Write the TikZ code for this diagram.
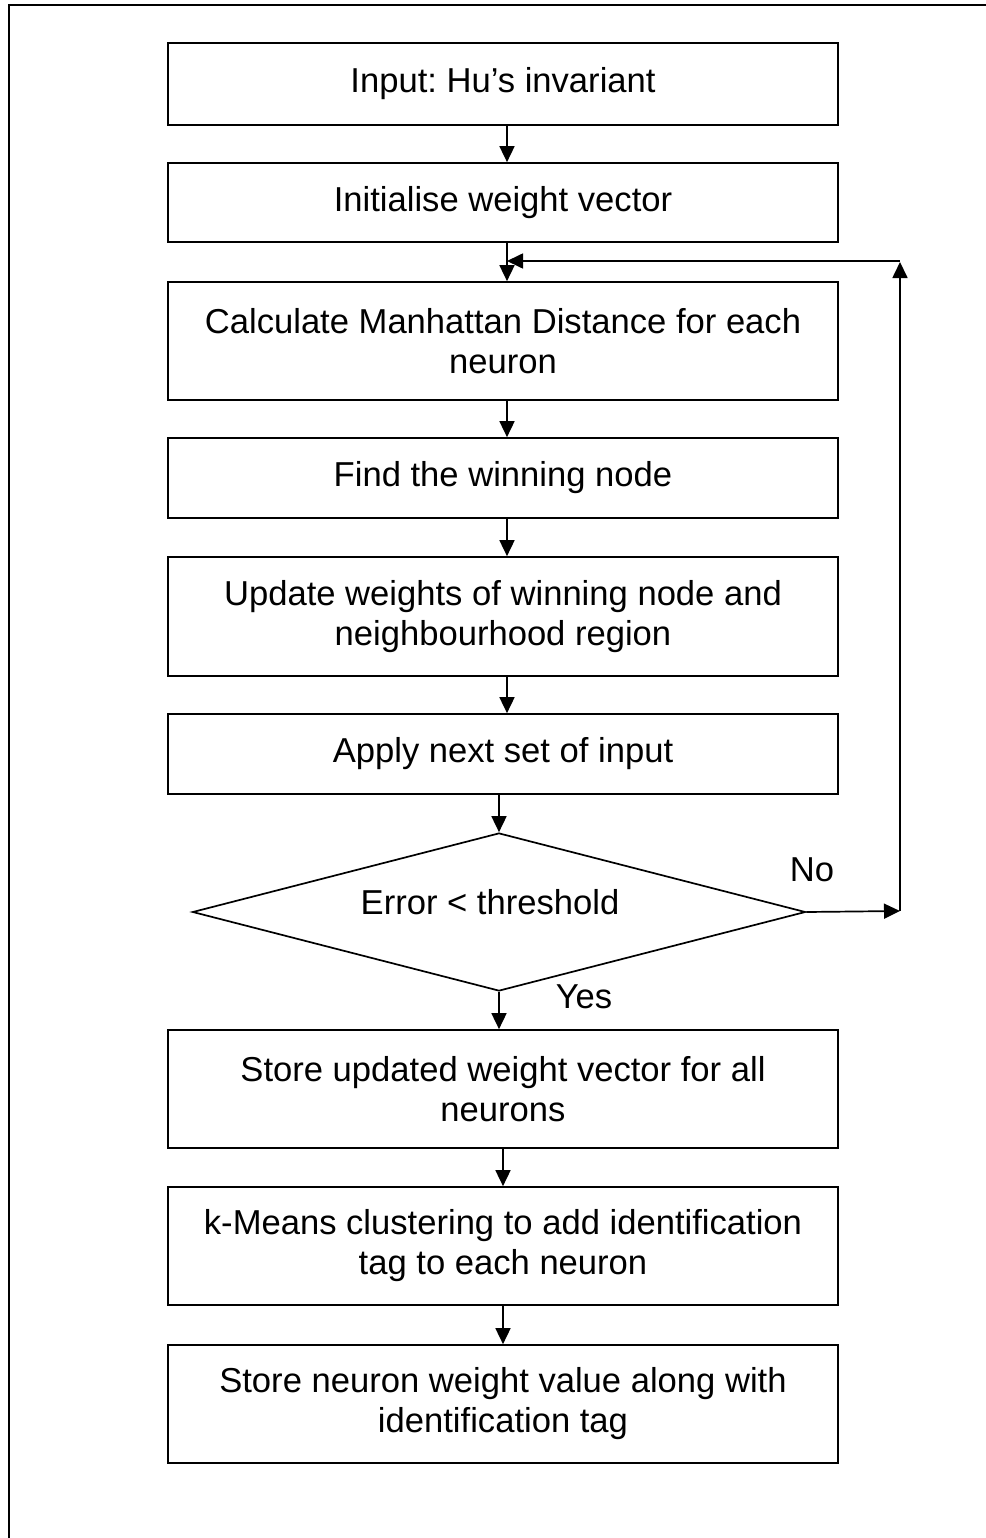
\documentclass[tikz,border=0pt]{standalone}
\usepackage{fontspec}
\setmainfont{Liberation Sans}
\usetikzlibrary{arrows.meta,shapes.geometric}
\frenchspacing
\begin{document}
\begin{tikzpicture}[x=1pt,y=-1pt,
  box/.style={draw,line width=1.7pt,minimum width=670pt,inner sep=0pt,align=center,
    font=\fontsize{34.6}{40}\selectfont},
  lbl/.style={inner sep=0pt,font=\fontsize{34.6}{40}\selectfont},
  arr/.style={line width=1.7pt,-{Triangle[length=16pt,width=15pt]}},
  ln/.style={line width=1.7pt}]
\useasboundingbox (0,0) rectangle (985,1538);
\draw[line width=2.6pt] (9,1550) -- (9,5) -- (995,5);
\node[box,minimum height=82pt]  (b1) at (503,84)   {Input: Hu’s invariant};
\node[box,minimum height=79pt]  (b2) at (503,202.5){Initialise weight vector};
\node[box,minimum height=118pt] (b3) at (503,341)  {Calculate Manhattan Distance for each\\neuron};
\node[box,minimum height=80pt]  (b4) at (503,478)  {Find the winning node};
\node[box,minimum height=119pt] (b5) at (503,616.5){Update weights of winning node and\\neighbourhood region};
\node[box,minimum height=80pt]  (b6) at (503,754)  {Apply next set of input};
\node[draw,diamond,line width=1.7pt,inner sep=0pt,minimum width=613pt,minimum height=158pt,
  shape aspect=3.88] (dia) at (499,912) {};
\node[lbl] (dt) at (490,902) {Error < threshold};
\node[box,minimum height=118pt] (b7) at (503,1089) {Store updated weight vector for all\\neurons};
\node[box,minimum height=118pt] (b8) at (503,1246) {k-Means clustering to add identification\\tag to each neuron};
\node[box,minimum height=118pt] (b9) at (503,1404) {Store neuron weight value along with\\identification tag};
\node[lbl] (no) at (812,870) {No};
\node[lbl] (yes) at (584,997) {Yes};
\coordinate (c1) at (900,911);
\coordinate (c2) at (900,262);
\coordinate (c3) at (507,261);
\draw[arr] (b1.south -| c3) -- (b2.north -| c3);
\draw[arr] (b2.south -| c3) -- (b3.north -| c3);
\draw[arr] (b3.south -| c3) -- (b4.north -| c3);
\draw[arr] (b4.south -| c3) -- (b5.north -| c3);
\draw[arr] (b5.south -| c3) -- (b6.north -| c3);
\draw[arr] (b6.south -| dia.north) -- (dia.north);
\draw[arr] (dia.south) -- (b7.north -| dia.south);
\draw[arr] (b7.south) -- (b8.north);
\draw[arr] (b8.south) -- (b9.north);
\draw[arr] (dia.east) -- (c1);
\draw[arr] (c1) -- (c2);
\draw[arr] (c2 |- c3) -- (c3);
\end{tikzpicture}
\end{document}
